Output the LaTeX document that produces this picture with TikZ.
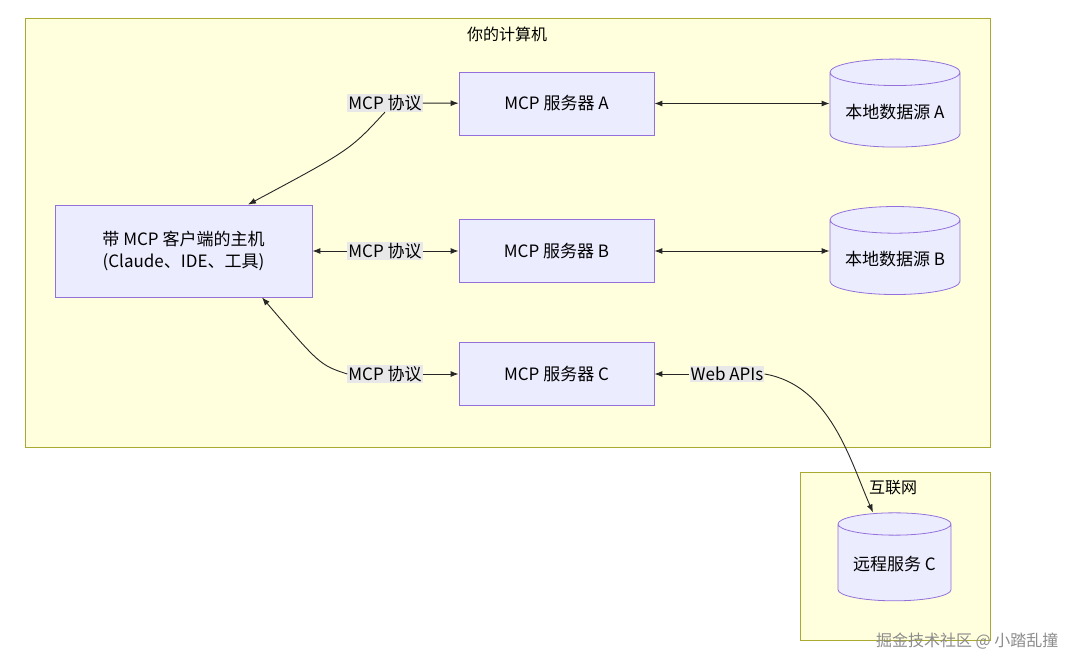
\documentclass[tikz,border=0pt]{standalone}
\usepackage{fontspec}
\setmainfont{Noto Sans CJK SC}
\usetikzlibrary{shapes.geometric,arrows.meta}
\definecolor{clfill}{HTML}{FFFFDE}
\definecolor{cldraw}{HTML}{AAAA33}
\definecolor{nfill}{HTML}{ECECFF}
\definecolor{ndraw}{HTML}{9370DB}
\definecolor{lbl}{HTML}{E8E8E8}
\tikzset{
 x=1pt,y=-1pt,
 cluster/.style={draw=cldraw,fill=clfill,line width=0.8pt},
 box/.style={draw=ndraw,fill=nfill,line width=0.8pt,minimum width=195pt,minimum height=63pt,font=\fontsize{17}{22}\selectfont,align=center},
 db/.style={cylinder,shape border rotate=90,aspect=0.25,draw=ndraw,fill=nfill,line width=0.8pt,font=\fontsize{17}{22}\selectfont},
 lab/.style={fill=lbl,inner sep=1pt,font=\fontsize{17}{22}\selectfont},
 ed/.style={draw=black!85,line width=0.9pt,-{Latex[length=8pt,width=6pt]}},
 ed2/.style={draw=black!85,line width=0.9pt,{Latex[length=8pt,width=6pt]}-{Latex[length=8pt,width=6pt]}},
}
\begin{document}
\begin{tikzpicture}
\useasboundingbox (0,0) rectangle (1080,671);
\fill[white] (0,0) rectangle (1080,671);
\draw[cluster] (25,18) rectangle (990,447);
\node[font=\fontsize{16}{20}\selectfont] (t1) at (507,34) {你的计算机};
\draw[cluster] (800,472) rectangle (990,640);
\node[font=\fontsize{16}{20}\selectfont] (t2) at (893,488) {互联网};
\node[box,minimum width=257pt,minimum height=92pt] (host) at (183.5,251) {带 MCP 客户端的主机\\(Claude、IDE、工具)};
\node[box] (sa) at (556.5,103.5) {MCP 服务器 A};
\node[box] (sb) at (556.5,251) {MCP 服务器 B};
\node[box] (sc) at (556.5,374) {MCP 服务器 C};
\node[db,minimum width=130pt,minimum height=88pt] (da) at (895,112) {本地数据源 A};
\node[db,minimum width=130pt,minimum height=88pt] (dbb) at (895,259.5) {本地数据源 B};
\node[db,minimum width=113pt,minimum height=88pt] (dc) at (894.5,564.5) {远程服务 C};
\node[lab] (la) at (385,103) {MCP 协议};
\node[lab] (lb) at (385,251) {MCP 协议};
\node[lab] (lc) at (385,374) {MCP 协议};
\node[lab] (lw) at (727,374) {Web APIs};
\draw[ed] (la) -- (sa);
\draw[ed] (la.south) .. controls (350,150) .. (host.north-|248,0);
\draw[ed] (lb) -- (host);
\draw[ed] (lb) -- (sb);
\draw[ed] (lc.west) .. controls (320,365) .. (host.south-|262,0);
\draw[ed] (lc) -- (sc);
\draw[ed2] (sa.east) -- (sa.east-|da.west);
\draw[ed2] (sb.east) -- (sb.east-|dbb.west);
\draw[ed] (lw) -- (sc);
\draw[ed] (lw.east) .. controls (830,385) and (850,460) .. (dc.north-|873,0);
\node[text=black!45,font=\fontsize{16}{19}\selectfont,anchor=east] (wm) at (1062,641) {掘金技术社区 @ 小踏乱撞};
\end{tikzpicture}
\end{document}
